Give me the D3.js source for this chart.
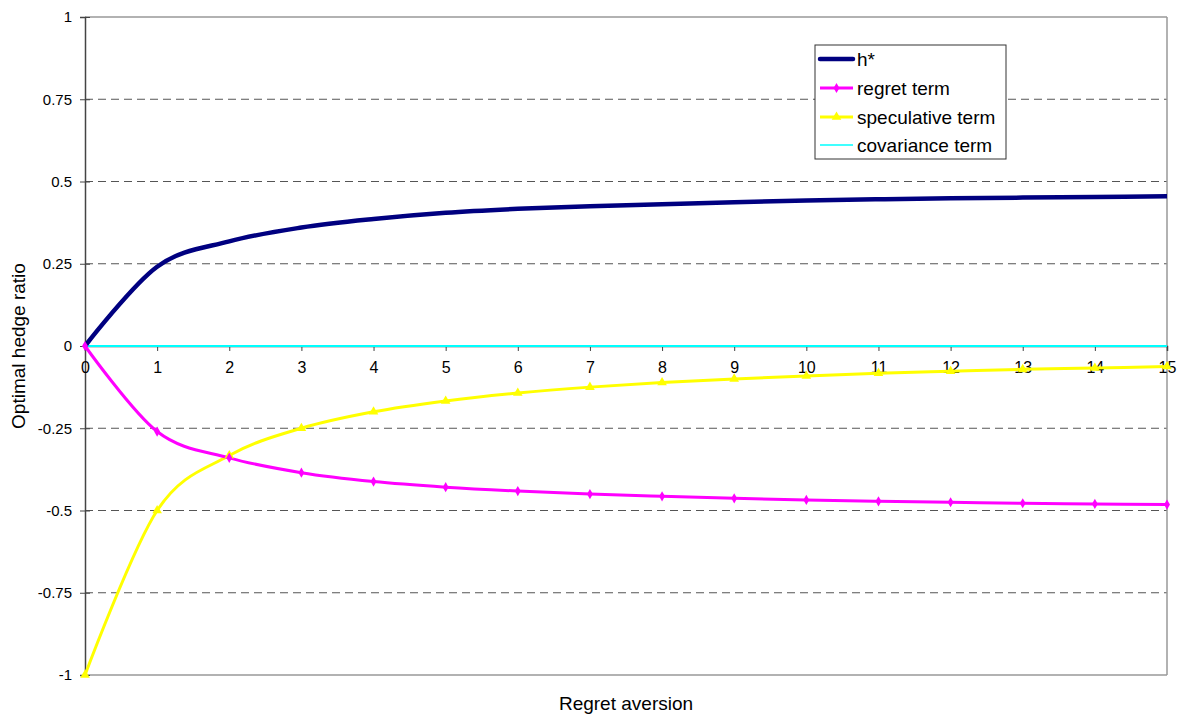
<!DOCTYPE html>
<html><head><meta charset="utf-8">
<script src="https://cdn.jsdelivr.net/npm/d3@7"></script>
<style>body{margin:0;background:#fff;} text{font-family:"Liberation Sans",Arial,sans-serif;}</style>
</head><body><svg id="c" width="1183" height="715"></svg>
<script>
const xValues = [0,1,2,3,4,5,6,7,8,9,10,11,12,13,14,15];
const hStar = [0,0.241,0.318,0.36,0.386,0.405,0.417,0.425,0.431,0.437,0.442,0.446,0.449,0.451,0.453,0.455];
const regretTerm = [0,-0.26,-0.34,-0.385,-0.412,-0.429,-0.441,-0.45,-0.457,-0.463,-0.468,-0.472,-0.475,-0.478,-0.48,-0.482];
const speculativeTerm = [-1,-0.5,-0.333,-0.25,-0.2,-0.167,-0.143,-0.125,-0.111,-0.1,-0.091,-0.083,-0.077,-0.071,-0.067,-0.0625];
const covarianceTerm = [0,0,0,0,0,0,0,0,0,0,0,0,0,0,0,0];
const yTicks = [-1,-0.75,-0.5,-0.25,0,0.25,0.5,0.75,1];
const xTicks = [0,1,2,3,4,5,6,7,8,9,10,11,12,13,14,15];
const seriesNames = ["h*","regret term","speculative term","covariance term"];

const svg = d3.select("#c");
const L=85,R=1167,T=17,B=675;
const x = d3.scaleLinear().domain([0,15]).range([L,R]);
const y = d3.scaleLinear().domain([-1,1]).range([B,T]);
const FF = "Liberation Sans, Arial, sans-serif";

// gridlines
svg.append("g").selectAll("line").data(yTicks.filter(v=>v!==0&&v!==1&&v!==-1)).join("line")
  .attr("x1",L).attr("x2",R).attr("y1",d=>y(d)).attr("y2",d=>y(d))
  .attr("stroke","#555").attr("stroke-width",1).attr("stroke-dasharray","8,5");
// frame
svg.append("line").attr("x1",L).attr("x2",R).attr("y1",T).attr("y2",T).attr("stroke","#999").attr("stroke-width",1.5);
svg.append("line").attr("x1",L).attr("x2",R).attr("y1",B).attr("y2",B).attr("stroke","#999").attr("stroke-width",1.5);
svg.append("line").attr("x1",R).attr("x2",R).attr("y1",T).attr("y2",B).attr("stroke","#999").attr("stroke-width",1.5);

// y axis
const yAxis = d3.axisLeft(y).tickValues(yTicks).tickSize(5).tickPadding(8).tickFormat(d=>String(d));
const gy = svg.append("g").attr("transform",`translate(${L},0)`).call(yAxis);
gy.select(".domain").attr("stroke","#444").attr("stroke-width",1.5);
gy.selectAll(".tick line").attr("stroke","#444").attr("x1",5);
gy.selectAll("text").attr("font-size",15).attr("fill","#000").style("font-family",FF);

// x axis at y=0
const xAxis = d3.axisBottom(x).tickValues(xTicks).tickSize(5).tickPadding(11).tickFormat(d=>String(d));
const gx = svg.append("g").attr("transform",`translate(0,${y(0)})`).call(xAxis);
gx.select(".domain").attr("stroke","#444").attr("stroke-width",1.5);
gx.selectAll(".tick line").attr("stroke","#444");
gx.selectAll("text").attr("font-size",16).attr("fill","#000").style("font-family",FF);

const line = d3.line().x((d,i)=>x(xValues[i])).y(d=>y(d)).curve(d3.curveCardinal.tension(0));

svg.append("path").attr("d",line(covarianceTerm)).attr("fill","none").attr("stroke","#00FFFF").attr("stroke-width",2);
svg.append("path").attr("d",line(speculativeTerm)).attr("fill","none").attr("stroke","#FFFF00").attr("stroke-width",3);
svg.append("path").attr("d",line(regretTerm)).attr("fill","none").attr("stroke","#FF00FF").attr("stroke-width",3);
svg.append("path").attr("d",line(hStar)).attr("fill","none").attr("stroke","#000080").attr("stroke-width",4.5);

const tri = d3.symbol().type(d3.symbolTriangle).size(40);
const dia = d3.symbol().type(d3.symbolDiamond).size(30);
svg.append("g").selectAll("path").data(speculativeTerm).join("path")
  .attr("transform",(d,i)=>`translate(${x(xValues[i])},${y(d)})`).attr("d",tri).attr("fill","#FFFF00");
svg.append("g").selectAll("path").data(regretTerm).join("path")
  .attr("transform",(d,i)=>`translate(${x(xValues[i])},${y(d)})`).attr("d",dia).attr("fill","#FF00FF");

// axis titles
svg.append("text").attr("x",(L+R)/2).attr("y",710).attr("text-anchor","middle").attr("font-size",19).text("Regret aversion");
svg.append("text").attr("transform",`translate(25,${(T+B)/2}) rotate(-90)`).attr("text-anchor","middle").attr("font-size",19).text("Optimal hedge ratio");

// legend
const lg = svg.append("g").attr("transform","translate(815,45)");
lg.append("rect").attr("width",191).attr("height",114).attr("fill","#fff").attr("stroke","#333").attr("stroke-width",1);
const colors=["#000080","#FF00FF","#FFFF00","#00FFFF"];
const widths=[4.5,3,3,1.5];
const rowsY=[14,43,72,100];
seriesNames.forEach((n,i)=>{
  const g=lg.append("g").attr("transform",`translate(0,${rowsY[i]})`);
  g.append("line").attr("x1",5).attr("x2",38).attr("stroke",colors[i]).attr("stroke-width",widths[i]).attr("stroke-linecap",i===0?"round":"butt");
  if(i===1) g.append("path").attr("transform","translate(21.5,0)").attr("d",dia).attr("fill",colors[i]);
  if(i===2) g.append("path").attr("transform","translate(21.5,0)").attr("d",tri).attr("fill",colors[i]);
  g.append("text").attr("x",42).attr("y",7).attr("font-size",19).text(n);
});
</script></body></html>
